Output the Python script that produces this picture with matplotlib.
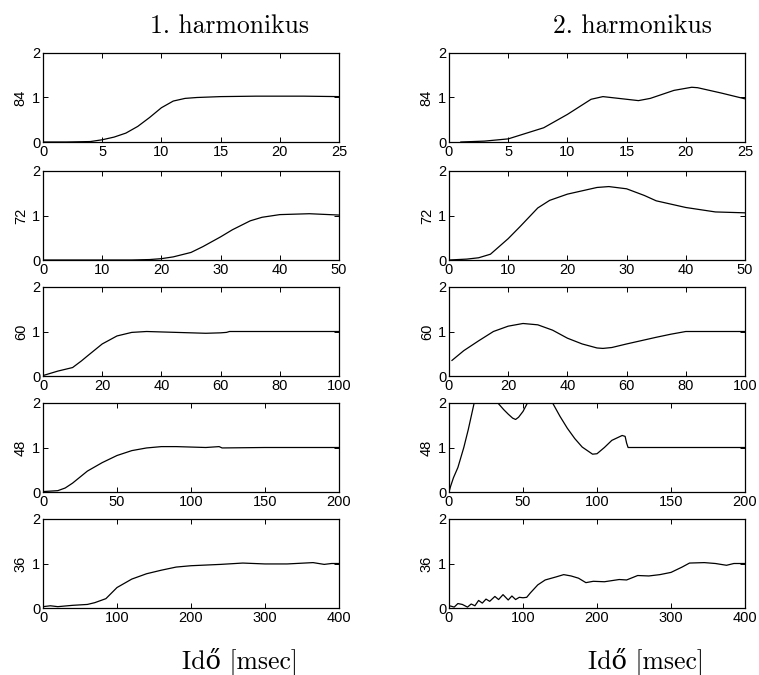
import matplotlib
matplotlib.use("Agg")
import matplotlib.pyplot as plt

# x limits and ticks for each row (same for both columns)
row_labels = ["84", "72", "60", "48", "36"]
row_xmax = [25, 50, 100, 200, 400]
row_xticks = [
	[0, 5, 10, 15, 20, 25],
	[0, 10, 20, 30, 40, 50],
	[0, 20, 40, 60, 80, 100],
	[0, 50, 100, 150, 200],
	[0, 100, 200, 300, 400],
]

# 1. harmonikus
h1_84_x = [0, 2, 4, 5, 6, 7, 8, 9, 10, 11, 12, 13, 15, 18, 20, 22, 25]
h1_84_y = [0, 0, 0.01, 0.05, 0.11, 0.2, 0.35, 0.55, 0.77, 0.92, 0.98, 1.0, 1.02, 1.03, 1.03, 1.03, 1.02]

h1_72_x = [0, 10, 15, 18, 20, 22, 25, 27, 30, 32, 35, 37, 40, 45, 50]
h1_72_y = [0, 0, 0, 0.01, 0.03, 0.07, 0.17, 0.3, 0.52, 0.68, 0.88, 0.96, 1.02, 1.04, 1.01]

h1_60_x = [0, 5, 10, 13, 15, 20, 25, 30, 35, 40, 50, 55, 60, 62, 63, 70, 100]
h1_60_y = [0.01, 0.11, 0.19, 0.34, 0.45, 0.72, 0.9, 0.98, 1.0, 0.99, 0.97, 0.96, 0.97, 0.98, 1.0, 1.0, 1.0]

h1_48_x = [0, 10, 15, 20, 30, 40, 50, 60, 70, 80, 90, 100, 110, 119, 121, 150, 200]
h1_48_y = [0.01, 0.03, 0.09, 0.2, 0.47, 0.66, 0.82, 0.93, 0.99, 1.02, 1.02, 1.01, 1.0, 1.02, 0.99, 1.0, 1.0]

h1_36_x = [0, 10, 20, 40, 60, 70, 85, 100, 120, 140, 160, 180, 200, 240, 270, 300, 330, 365, 380, 390, 400]
h1_36_y = [0.03, 0.05, 0.03, 0.06, 0.08, 0.12, 0.21, 0.46, 0.65, 0.77, 0.85, 0.92, 0.95, 0.98, 1.01, 0.99, 0.99, 1.02, 0.98, 1.0, 1.0]

# 2. harmonikus
h2_84_x = [1, 3, 5, 8, 10, 12, 13, 14, 16, 17, 19, 20.5, 21, 23, 25]
h2_84_y = [0, 0.02, 0.07, 0.32, 0.62, 0.96, 1.02, 0.99, 0.93, 0.98, 1.16, 1.23, 1.22, 1.1, 0.97]

h2_72_x = [0, 3, 5, 7, 10, 12, 15, 17, 20, 25, 27, 30, 33, 35, 40, 45, 50]
h2_72_y = [0, 0.02, 0.05, 0.13, 0.48, 0.75, 1.17, 1.34, 1.48, 1.63, 1.65, 1.6, 1.45, 1.33, 1.18, 1.08, 1.06]

h2_60_x = [1, 5, 10, 15, 20, 25, 30, 35, 40, 45, 50, 52, 55, 60, 70, 75, 80, 100]
h2_60_y = [0.35, 0.57, 0.79, 1.0, 1.12, 1.18, 1.15, 1.03, 0.85, 0.72, 0.63, 0.62, 0.64, 0.72, 0.87, 0.94, 1.0, 1.0]

h2_48_x = [0, 1, 3, 6, 10, 13, 17, 22, 27, 33, 37, 40, 43, 45, 47, 50, 53, 60, 66, 70, 75, 80, 85, 90, 97, 100, 105, 110, 117, 119, 120, 121, 150, 200]
h2_48_y = [0, 0.12, 0.32, 0.55, 1.0, 1.4, 2.0, 2.35, 2.3, 2.0, 1.85, 1.75, 1.66, 1.63, 1.68, 1.81, 2.0, 2.3, 2.25, 2.0, 1.7, 1.43, 1.2, 1.01, 0.85, 0.86, 1.0, 1.16, 1.27, 1.25, 1.1, 1.0, 1.0, 1.0]

h2_36_x = [0, 3, 7, 12, 18, 25, 30, 35, 40, 45, 50, 55, 62, 67, 73, 80, 85, 90, 95, 100, 105, 110, 120, 130, 145, 155, 165, 175, 185, 195, 210, 230, 240, 255, 270, 285, 300, 315, 325, 345, 360, 375, 385, 400]
h2_36_y = [0.05, 0.04, 0.02, 0.1, 0.08, 0.02, 0.09, 0.05, 0.17, 0.11, 0.2, 0.15, 0.26, 0.19, 0.3, 0.18, 0.27, 0.19, 0.24, 0.23, 0.24, 0.34, 0.52, 0.63, 0.7, 0.75, 0.72, 0.67, 0.57, 0.6, 0.59, 0.64, 0.63, 0.73, 0.72, 0.75, 0.8, 0.92, 1.01, 1.02, 1.0, 0.96, 1.0, 1.0]

col_titles = ["1. harmonikus", "2. harmonikus"]
xlabel_text = "Idő [msec]"

series = [
	[(h1_84_x, h1_84_y), (h2_84_x, h2_84_y)],
	[(h1_72_x, h1_72_y), (h2_72_x, h2_72_y)],
	[(h1_60_x, h1_60_y), (h2_60_x, h2_60_y)],
	[(h1_48_x, h1_48_y), (h2_48_x, h2_48_y)],
	[(h1_36_x, h1_36_y), (h2_36_x, h2_36_y)],
]

W, H = 759, 675
plt.rcParams["font.family"] = ["Liberation Sans", "DejaVu Sans"]
fig = plt.figure(figsize=(W / 100.0, H / 100.0), dpi=100)

col_left = [43, 449]
col_width = 296
row_top = [53, 171, 287, 403, 519]
row_height = 89

serif = ["cmr10", "DejaVu Serif"]

for r in range(5):
	for c in range(2):
		ax = fig.add_axes([col_left[c] / W, 1 - (row_top[r] + row_height) / H, col_width / W, row_height / H])
		xs, ys = series[r][c]
		ax.plot(xs, ys, color="black", linewidth=0.9)
		ax.set_xlim(0, row_xmax[r])
		ax.set_ylim(0, 2)
		ax.set_xticks(row_xticks[r])
		ax.set_yticks([0, 1, 2])
		ax.tick_params(direction="in", top=True, right=True, length=3.5, width=0.7, labelsize=10.5, pad=2)
		for s in ax.spines.values():
			s.set_linewidth(0.9)
		#end_for
		ax.set_ylabel(row_labels[r], fontsize=10.5, labelpad=3)
	#end_for
#end_for

fig.text(229 / W, 1 - 33 / H, col_titles[0], family=serif, fontsize=18.5, ha="center", va="baseline")
fig.text(632 / W, 1 - 33 / H, col_titles[1], family=serif, fontsize=18.5, ha="center", va="baseline")
fig.text(240 / W, 1 - 668 / H, xlabel_text, family=serif, fontsize=18.5, ha="center", va="baseline")
fig.text(646 / W, 1 - 668 / H, xlabel_text, family=serif, fontsize=18.5, ha="center", va="baseline")

fig.savefig("out.png", dpi=100)
